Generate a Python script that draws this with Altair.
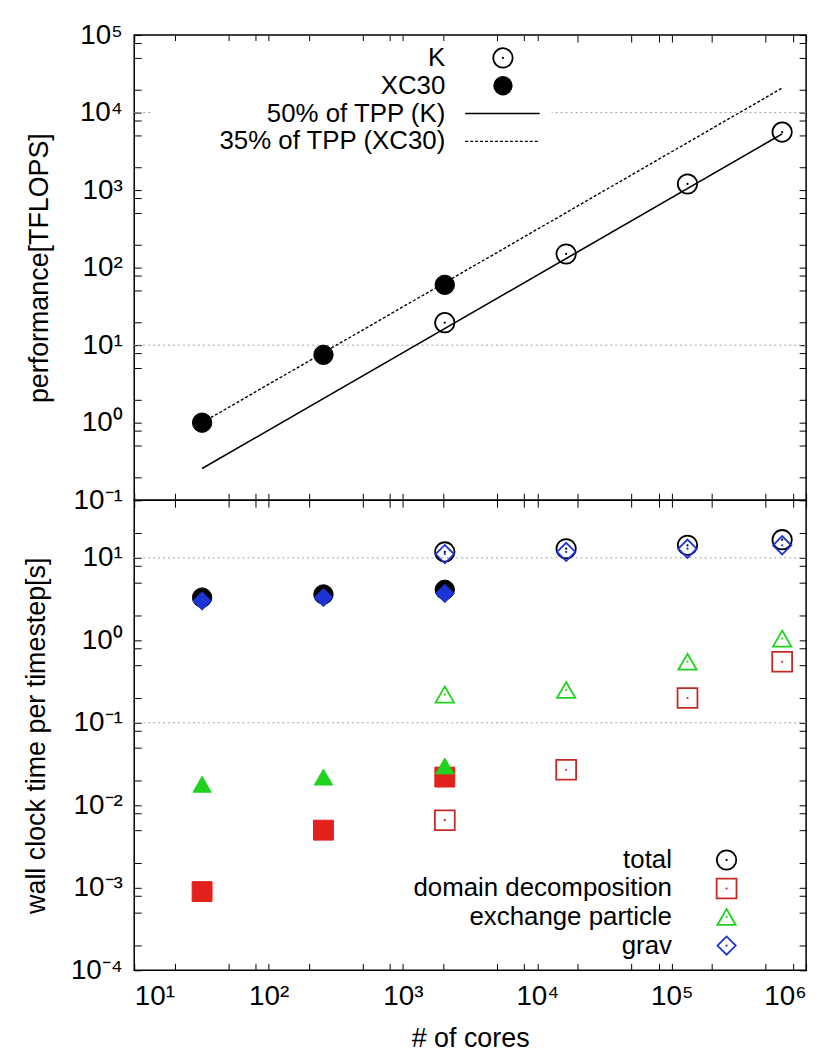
import altair as alt
import pandas as pd

FONT = "Liberation Sans"

# ---------------- data ----------------
cores_K = [2048, 16384, 131072, 663552]
cores_XC30 = [32, 256, 2048]

perf_K = [19.5, 150, 1200, 5600]
perf_XC30 = [1.0, 7.5, 60]

tpp_cores = [32, 663552]
tpp50_K = [0.256, 5308]
tpp35_XC30 = [1.0, 20736]

total_K = [11.8, 12.9, 14.2, 16.6]
domain_K = [0.0066, 0.027, 0.2, 0.55]
exchange_K = [0.22, 0.25, 0.55, 1.05]
grav_K = [11.1, 11.8, 12.9, 14.2]

total_XC30 = [3.3, 3.6, 4.1]
domain_XC30 = [0.0009, 0.005, 0.022]
exchange_XC30 = [0.018, 0.022, 0.03]
grav_XC30 = [3.0, 3.3, 3.7]

top_legend = ["K", "XC30", "50% of TPP (K)", "35% of TPP (XC30)"]
bottom_legend = ["total", "domain decomposition", "exchange particle", "grav"]

x_ticks = [m * 10 ** e for e in range(1, 6) for m in (1, 2, 5, 8)] + [10 ** 6]
y_ticks_top = [m * 10.0 ** e for e in range(-1, 5) for m in (1, 2, 5, 8)] + [1e5]
y_ticks_bot = [m * 10.0 ** e for e in range(-4, 2) for m in (1, 2, 5, 8)]
grid_top = [1e4, 1e1]
grid_bot = [1e1, 1e-1]

X_DOMAIN = [10, 1e6]
TOP_DOMAIN = [0.1, 1e5]
BOT_DOMAIN = [1e-4, 50]

W = 676
H_TOP = 468
H_BOT = 473

RED = "#e3211c"
RED_OPEN = "#c42b26"
GREEN = "#1ed21e"
BLUE = "#1c34d6"

LOG_LABEL = (
    "abs(log(datum.value)/LN10 - round(log(datum.value)/LN10)) < 0.001 ? "
    "'10' + replace(replace(replace(replace(replace(replace(replace(replace("
    "'' + round(log(datum.value)/LN10),'-','\u207b'),'0','\u2070'),'1','\u00b9'),"
    "'2','\u00b2'),'3','\u00b3'),'4','\u2074'),'5','\u2075'),'6','\u2076') : ''"
)

TICK = 7


def axis(values, labels=True, title=None, orient=None, title_pad=20):
    kw = dict(
        values=values,
        grid=False,
        domain=False,
        tickSize=TICK,
        offset=-TICK,
        tickColor="black",
        tickWidth=1,
        labels=labels,
    )
    if orient:
        kw["orient"] = orient
    if labels:
        kw.update(
            title=title,
            labelExpr=LOG_LABEL,
            labelFontSize=28,
            labelFont=FONT,
            labelColor="black",
            labelPadding=12,
            labelOverlap=False,
            titleFontSize=27,
            titleFont=FONT,
            titleFontWeight="normal",
            titleColor="black",
            titlePadding=title_pad,
        )
    else:
        kw.update(title=None, minExtent=0, maxExtent=0)
    return alt.Axis(**kw)


def xs(field, ax=None):
    if ax is None:
        return alt.X(field, type="quantitative", scale=alt.Scale(type="log", domain=X_DOMAIN), axis=None)
    return alt.X(field, type="quantitative", scale=alt.Scale(type="log", domain=X_DOMAIN), axis=ax)


def ys(field, domain, ax=None):
    if ax is None:
        return alt.Y(field, type="quantitative", scale=alt.Scale(type="log", domain=domain), axis=None)
    return alt.Y(field, type="quantitative", scale=alt.Scale(type="log", domain=domain), axis=ax)


def points(cores, vals, domain, shape, color, filled, size, with_dot=True):
    df = pd.DataFrame({"cores": cores, "v": vals})
    base = alt.Chart(df)
    if filled:
        m = base.mark_point(shape=shape, filled=True, fill=color, stroke=color, size=size, opacity=1, strokeWidth=1)
    else:
        m = base.mark_point(shape=shape, filled=False, stroke=color, size=size, opacity=1, strokeWidth=1.8)
    layers = [m.encode(x=xs("cores"), y=ys("v", domain))]
    if with_dot and not filled:
        layers.append(
            base.mark_point(shape="circle", filled=True, fill=color, size=5, opacity=1, strokeWidth=0)
            .encode(x=xs("cores"), y=ys("v", domain))
        )
    return layers


# ---------------- top panel ----------------
lines_df = pd.DataFrame({"cores": tpp_cores, "k50": tpp50_K, "x35": tpp35_XC30})
one = pd.DataFrame({"a": [0]})

frame_top_main = alt.Chart(lines_df).mark_point(opacity=0).encode(
    x=xs("cores", axis(x_ticks, labels=False)),
    y=ys("k50", TOP_DOMAIN, axis(y_ticks_top, labels=True, title="performance[TFLOPS]")),
)
frame_top_mirror = alt.Chart(lines_df).mark_point(opacity=0).encode(
    x=xs("cores", axis(x_ticks, labels=False, orient="top")),
    y=ys("k50", TOP_DOMAIN, axis(y_ticks_top, labels=False, orient="right")),
)

grid_top_layer = alt.Chart(pd.DataFrame({"g": grid_top})).mark_rule(
    color="#a0a0a0", strokeDash=[2, 3], strokeWidth=1
).encode(y=ys("g", TOP_DOMAIN))

legend_box_top = alt.Chart(one).mark_rect(fill="white").encode(
    x=alt.value(18), x2=alt.value(420), y=alt.value(6), y2=alt.value(122)
)

k_line = alt.Chart(lines_df).mark_line(color="black", strokeWidth=1.6).encode(
    x=xs("cores"), y=ys("k50", TOP_DOMAIN)
)
x_line = alt.Chart(lines_df).mark_line(color="black", strokeWidth=1.4, strokeDash=[3, 2]).encode(
    x=xs("cores"), y=ys("x35", TOP_DOMAIN)
)

top_pts = []
top_pts += points(cores_K, perf_K, TOP_DOMAIN, "circle", "black", False, 380)
top_pts += points(cores_XC30, perf_XC30, TOP_DOMAIN, "circle", "black", True, 380)

LEG_FS = 26
leg_top_df = pd.DataFrame({"label": top_legend, "row": list(range(len(top_legend)))})
leg_top_text = alt.Chart(leg_top_df).transform_calculate(ly="23 + datum.row * 28").mark_text(
    align="right", baseline="middle", font=FONT, fontSize=LEG_FS, color="black"
).encode(x=alt.value(313), y=alt.Y("ly:Q", scale=None, axis=None), text="label:N")

leg_k_sym = alt.Chart(one).mark_point(shape="circle", filled=False, stroke="black", size=380, strokeWidth=1.8, opacity=1).encode(
    x=alt.value(371), y=alt.value(23))
leg_k_dot = alt.Chart(one).mark_point(shape="circle", filled=True, fill="black", size=5, strokeWidth=0, opacity=1).encode(
    x=alt.value(371), y=alt.value(23))
leg_x_sym = alt.Chart(one).mark_point(shape="circle", filled=True, fill="black", size=380, opacity=1).encode(
    x=alt.value(371), y=alt.value(51))
leg_k_line = alt.Chart(one).mark_rule(color="black", strokeWidth=1.6).encode(
    x=alt.value(333), x2=alt.value(408), y=alt.value(79))
leg_x_line = alt.Chart(one).mark_rule(color="black", strokeWidth=1.4, strokeDash=[3, 2]).encode(
    x=alt.value(333), x2=alt.value(408), y=alt.value(107))

top = alt.layer(
    frame_top_main, frame_top_mirror, grid_top_layer, legend_box_top,
    k_line, x_line, *top_pts,
    leg_top_text, leg_k_sym, leg_k_dot, leg_x_sym, leg_k_line, leg_x_line,
).resolve_axis(x="independent", y="independent").properties(width=W, height=H_TOP)

# ---------------- bottom panel ----------------
frame_bot_df = pd.DataFrame({"cores": cores_K, "v": total_K})
frame_bot_main = alt.Chart(frame_bot_df).mark_point(opacity=0).encode(
    x=xs("cores", axis(x_ticks, labels=True, title="# of cores", title_pad=16)),
    y=ys("v", BOT_DOMAIN, axis(y_ticks_bot, labels=True, title="wall clock time per timestep[s]")),
)
frame_bot_mirror = alt.Chart(frame_bot_df).mark_point(opacity=0).encode(
    x=xs("cores", axis(x_ticks, labels=False, orient="top")),
    y=ys("v", BOT_DOMAIN, axis(y_ticks_bot, labels=False, orient="right")),
)
grid_bot_layer = alt.Chart(pd.DataFrame({"g": grid_bot})).mark_rule(
    color="#a0a0a0", strokeDash=[2, 3], strokeWidth=1
).encode(y=ys("g", BOT_DOMAIN))

bot_pts = []
# XC30 (filled)
bot_pts += points(cores_XC30, total_XC30, BOT_DOMAIN, "circle", "black", True, 380)
bot_pts += points(cores_XC30, domain_XC30, BOT_DOMAIN, "square", RED, True, 400)
bot_pts += points(cores_XC30, exchange_XC30, BOT_DOMAIN, "triangle-up", GREEN, True, 340)
bot_pts += points(cores_XC30, grav_XC30, BOT_DOMAIN, "diamond", BLUE, True, 340)
# K (open)
bot_pts += points(cores_K, total_K, BOT_DOMAIN, "circle", "black", False, 380)
bot_pts += points(cores_K, domain_K, BOT_DOMAIN, "square", RED_OPEN, False, 400)
bot_pts += points(cores_K, exchange_K, BOT_DOMAIN, "triangle-up", GREEN, False, 340)
bot_pts += points(cores_K, grav_K, BOT_DOMAIN, "diamond", BLUE, False, 340)

leg_bot_df = pd.DataFrame({"label": bottom_legend, "row": list(range(len(bottom_legend)))})
leg_bot_text = alt.Chart(leg_bot_df).transform_calculate(ly="362 + datum.row * 28.7").mark_text(
    align="right", baseline="middle", font=FONT, fontSize=LEG_FS, color="black"
).encode(x=alt.value(541), y=alt.Y("ly:Q", scale=None, axis=None), text="label:N")

leg_syms = []
for i, (shape, col, sz) in enumerate([("circle", "black", 380), ("square", RED_OPEN, 400),
                                      ("triangle-up", GREEN, 340), ("diamond", BLUE, 340)]):
    yy = 362 + i * 28.7
    leg_syms.append(alt.Chart(one).mark_point(shape=shape, filled=False, stroke=col, size=sz, strokeWidth=1.8, opacity=1)
                    .encode(x=alt.value(596), y=alt.value(yy)))
    leg_syms.append(alt.Chart(one).mark_point(shape="circle", filled=True, fill=col, size=5, strokeWidth=0, opacity=1)
                    .encode(x=alt.value(596), y=alt.value(yy)))

bottom = alt.layer(
    frame_bot_main, frame_bot_mirror, grid_bot_layer, *bot_pts, leg_bot_text, *leg_syms
).resolve_axis(x="independent", y="independent").properties(width=W, height=H_BOT)

chart = alt.vconcat(top, bottom, spacing=0, bounds="flush").properties(
    padding={"left": 14, "top": 9, "right": 13, "bottom": 0}
).configure(font=FONT).configure_view(stroke="black", strokeWidth=1.5)

chart.save("out.html", embed_options={"renderer": "svg", "actions": False})
